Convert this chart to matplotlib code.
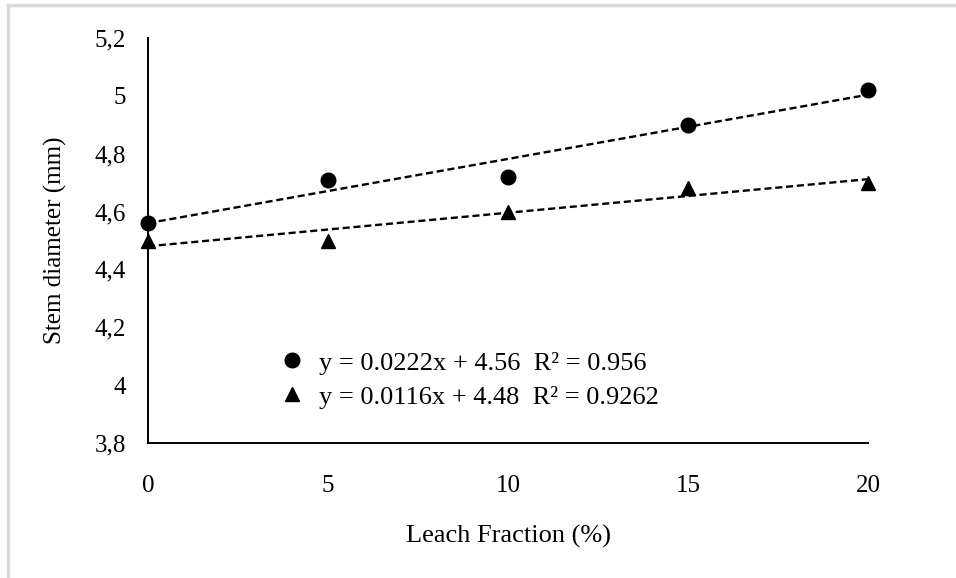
import numpy as np
import matplotlib
matplotlib.use("Agg")
import matplotlib.pyplot as plt
from matplotlib.lines import Line2D
from matplotlib.ticker import FuncFormatter

plt.rcParams['font.family'] = ['Liberation Serif', 'DejaVu Serif']

leach_fraction = [0, 5, 10, 15, 20]
series_circle = [4.56, 4.71, 4.72, 4.90, 5.02]
series_triangle = [4.50, 4.50, 4.60, 4.68, 4.70]
label_circle = "y = 0.0222x + 4.56  R² = 0.956"
label_triangle = "y = 0.0116x + 4.48  R² = 0.9262"
x_ticks = [0, 5, 10, 15, 20]
y_ticks = [3.8, 4.0, 4.2, 4.4, 4.6, 4.8, 5.0, 5.2]

fig = plt.figure(figsize=(9.56, 5.78), dpi=100)
ax = fig.add_axes([148/956, 1-443/578, 720/956, 405/578])

x = np.array(leach_fraction, dtype=float)
xs = np.linspace(min(x), max(x), 50)
for ys, mk in [(series_circle, 'o'), (series_triangle, '^')]:
    c = np.polyfit(x, ys, 1)
    ax.plot(xs, np.polyval(c, xs), color='black', lw=1.7, dashes=(3, 1.6), zorder=2)
    ax.plot(x, ys, linestyle='none', marker=mk, color='black', markersize=10.5, zorder=3, clip_on=False)

ax.set_xlim(0, 20)
ax.set_ylim(3.8, 5.2)
ax.set_xticks(x_ticks)
ax.set_yticks(y_ticks)

def yfmt(v, pos):
    s = f"{v:.1f}"
    if s.endswith(".0"):
        s = s[:-2]
    return s.replace('.', ',')
ax.yaxis.set_major_formatter(FuncFormatter(yfmt))
ax.tick_params(axis='both', length=0, labelsize=18)
ax.tick_params(axis='x', pad=23)
ax.tick_params(axis='y', pad=16)

for s in ['top', 'right']:
    ax.spines[s].set_visible(False)
for s in ['left', 'bottom']:
    ax.spines[s].set_linewidth(1.4)
    ax.spines[s].set_color('black')

ax.set_xlabel("Leach Fraction (%)", fontsize=19, labelpad=20)
ax.set_ylabel("Stem diameter (mm)", fontsize=18, labelpad=20)

handles = [Line2D([], [], linestyle='none', marker='o', color='black', markersize=10.5),
           Line2D([], [], linestyle='none', marker='^', color='black', markersize=10.5)]
ax.legend(handles, [label_circle, label_triangle], loc='center left',
          bbox_to_anchor=(0.164, 0.156), frameon=False, fontsize=19,
          borderpad=0, handletextpad=0.5, labelspacing=0.4, handlelength=1.0)

# light grey frame edges (top and left)
fig.add_artist(Line2D([8/956, 1], [1-5/578, 1-5/578], transform=fig.transFigure, color='#d9d9d9', lw=2.5))
fig.add_artist(Line2D([8/956, 8/956], [0, 1-5/578], transform=fig.transFigure, color='#d9d9d9', lw=2.5))

fig.savefig("out.png", dpi=100)
